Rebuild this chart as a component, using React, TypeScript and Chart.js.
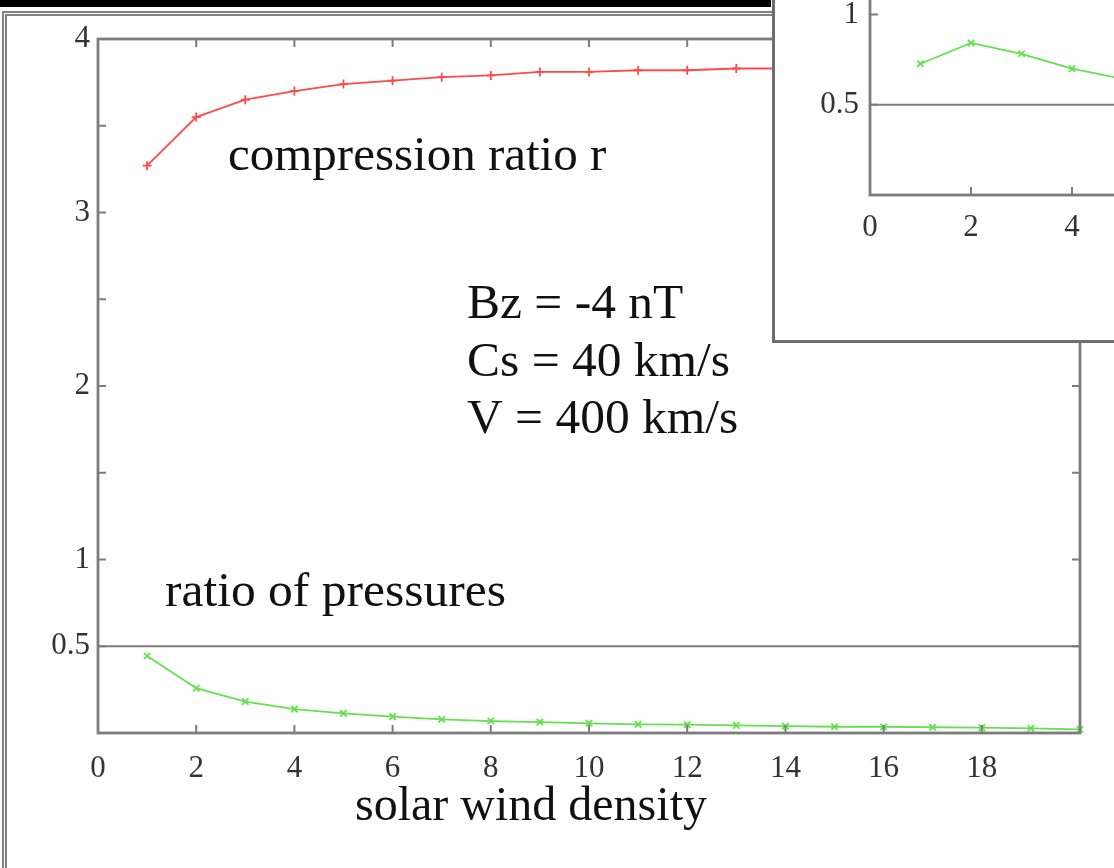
import React, { useEffect, useRef } from 'react';
import { Chart, registerables } from 'chart.js';

Chart.register(...registerables);

// ---- data ----
const densities = [1, 2, 3, 4, 5, 6, 7, 8, 9, 10, 11, 12, 13, 14, 15, 16, 17, 18, 19, 20];
const compressionRatio = [3.27, 3.55, 3.65, 3.70, 3.74, 3.76, 3.78, 3.79, 3.81, 3.81, 3.82, 3.82, 3.83, 3.83, 3.84, 3.84, 3.85, 3.85, 3.85, 3.86];
const pressureRatio = [0.444, 0.258, 0.181, 0.138, 0.113, 0.094, 0.079, 0.069, 0.063, 0.056, 0.050, 0.048, 0.044, 0.040, 0.036, 0.035, 0.033, 0.031, 0.027, 0.021];

const insetDensities = [1, 2, 3, 4, 5];
const insetPressureRatio = [0.727, 0.842, 0.782, 0.700, 0.643];

const mainXTickLabels = ['0', '2', '4', '6', '8', '10', '12', '14', '16', '18'];
const mainYTickLabels = ['0.5', '1', '2', '3', '4'];
const insetXTickLabels = ['0', '2', '4'];
const insetYTickLabels = ['0.5', '1'];

const curveLabelTop = 'compression ratio r';
const curveLabelBottom = 'ratio of pressures';
const paramLines = ['Bz = -4 nT', 'Cs = 40 km/s', 'V = 400 km/s'];
const xAxisTitle = 'solar wind density';

// ---- styles ----
const SERIF = "'Liberation Serif', 'Times New Roman', serif";
const RED = '#ff4a4a';
const GREEN = '#62e24c';
const AXIS = '#7c7c7c';
const TICK_TEXT = '#333333';

type Txt = { text: string; x: number; y: number; size: number };

function makeFramePlugin(opts: {
  id: string;
  refLine: number;
  xTickVals: (v: number, min: number, max: number) => boolean;
  yTickVals: (v: number, min: number, max: number) => boolean;
  texts: Txt[];
}) {
  return {
    id: opts.id,
    beforeDatasetsDraw(chart: any) {
      const { ctx, chartArea, scales } = chart;
      const yy = scales.y.getPixelForValue(opts.refLine);
      ctx.save();
      ctx.strokeStyle = AXIS;
      ctx.lineWidth = 2;
      ctx.beginPath();
      ctx.moveTo(chartArea.left, yy);
      ctx.lineTo(chartArea.right, yy);
      ctx.stroke();
      ctx.restore();
    },
    afterDatasetsDraw(chart: any) {
      const { ctx, chartArea, scales } = chart;
      const { left, right, top, bottom } = chartArea;
      ctx.save();
      ctx.strokeStyle = AXIS;
      ctx.lineWidth = 2.8;
      ctx.strokeRect(left, top, right - left, bottom - top);
      ctx.lineWidth = 2;
      const tl = 8;
      const xs = scales.x;
      xs.ticks.forEach((t: any) => {
        if (!opts.xTickVals(t.value, xs.min, xs.max)) return;
        const px = xs.getPixelForValue(t.value);
        ctx.beginPath();
        ctx.moveTo(px, bottom);
        ctx.lineTo(px, bottom - tl);
        ctx.moveTo(px, top);
        ctx.lineTo(px, top + tl);
        ctx.stroke();
      });
      const ys = scales.y;
      ys.ticks.forEach((t: any) => {
        if (!opts.yTickVals(t.value, ys.min, ys.max)) return;
        const py = ys.getPixelForValue(t.value);
        ctx.beginPath();
        ctx.moveTo(left, py);
        ctx.lineTo(left + tl, py);
        ctx.moveTo(right, py);
        ctx.lineTo(right - tl, py);
        ctx.stroke();
      });
      ctx.fillStyle = '#111';
      ctx.textAlign = 'left';
      ctx.textBaseline = 'alphabetic';
      opts.texts.forEach((t) => {
        ctx.font = `${t.size}px ${SERIF}`;
        ctx.fillText(t.text, t.x, t.y);
      });
      ctx.restore();
    },
  };
}

const noScalePadding = (s: any) => {
  s.paddingTop = 0;
  s.paddingBottom = 0;
  s.paddingLeft = 0;
  s.paddingRight = 0;
};

function MainChart() {
  const ref = useRef<HTMLCanvasElement | null>(null);
  useEffect(() => {
    if (!ref.current) return;
    const W = 1114, H = 868;
    const area = { left: 98, right: 1080, top: 39, bottom: 733 };
    const texts: Txt[] = [
      { text: curveLabelTop, x: 228, y: 170, size: 49 },
      { text: paramLines[0], x: 467, y: 318, size: 49.5 },
      { text: paramLines[1], x: 467, y: 376, size: 49.5 },
      { text: paramLines[2], x: 467, y: 433, size: 49.5 },
      { text: curveLabelBottom, x: 165, y: 606, size: 49.5 },
      { text: xAxisTitle, x: 355, y: 820, size: 48 },
    ];
    const chart = new Chart(ref.current, {
      type: 'line',
      data: {
        datasets: [
          {
            label: 'compression ratio r',
            data: densities.map((d, i) => ({ x: d, y: compressionRatio[i] })),
            borderColor: RED,
            backgroundColor: RED,
            borderWidth: 1.8,
            pointStyle: 'cross',
            pointRadius: 4.5,
            pointBorderWidth: 1.8,
            tension: 0,
            clip: false as any,
          },
          {
            label: 'ratio of pressures',
            data: densities.map((d, i) => ({ x: d, y: pressureRatio[i] })),
            borderColor: GREEN,
            backgroundColor: GREEN,
            borderWidth: 1.8,
            pointStyle: 'crossRot',
            pointRadius: 4.5,
            pointBorderWidth: 1.8,
            tension: 0,
            clip: false as any,
          },
        ],
      },
      options: {
        responsive: false,
        animation: false,
        devicePixelRatio: 1,
        layout: { padding: { left: 0, top: area.top, right: W - area.right, bottom: 0 } },
        plugins: { legend: { display: false }, tooltip: { enabled: false }, title: { display: false } },
        scales: {
          x: {
            type: 'linear',
            min: 0,
            max: 20,
            grid: { display: false, drawTicks: false },
            border: { display: false },
            ticks: {
              stepSize: 2,
              autoSkip: false,
              maxRotation: 0,
              padding: 17,
              color: TICK_TEXT,
              font: { family: SERIF, size: 31 },
              callback: (v: any) => (mainXTickLabels.includes(String(v)) ? String(v) : ''),
            },
            afterFit: (s: any) => { s.height = H - area.bottom; noScalePadding(s); },
          },
          y: {
            type: 'linear',
            min: 0,
            max: 4,
            grid: { display: false, drawTicks: false },
            border: { display: false },
            ticks: {
              stepSize: 0.5,
              autoSkip: false,
              padding: 8,
              color: TICK_TEXT,
              font: { family: SERIF, size: 31 },
              callback: (v: any) => (mainYTickLabels.includes(String(v)) ? String(v) : ''),
            },
            afterFit: (s: any) => { s.width = area.left; noScalePadding(s); },
          },
        },
      } as any,
      plugins: [
        makeFramePlugin({
          id: 'mainFrame',
          refLine: 0.5,
          xTickVals: (v, mn, mx) => v > mn && v < mx,
          yTickVals: (v, mn, mx) => v > mn && v < mx,
          texts,
        }),
      ],
    });
    return () => chart.destroy();
  }, []);
  return <canvas ref={ref} width={1114} height={868} style={{ position: 'absolute', left: 0, top: 0, width: 1114, height: 868 }} />;
}

function InsetChart() {
  const ref = useRef<HTMLCanvasElement | null>(null);
  const CW = 414, CH = 377;
  useEffect(() => {
    if (!ref.current) return;
    const area = { left: 95, bottom: 232, top: 3, right: 398 };
    const chart = new Chart(ref.current, {
      type: 'line',
      data: {
        datasets: [
          {
            label: 'ratio of pressures',
            data: insetDensities.map((d, i) => ({ x: d, y: insetPressureRatio[i] })),
            borderColor: GREEN,
            backgroundColor: GREEN,
            borderWidth: 1.8,
            pointStyle: 'crossRot',
            pointRadius: 4.5,
            pointBorderWidth: 1.8,
            tension: 0,
          },
        ],
      },
      options: {
        responsive: false,
        animation: false,
        devicePixelRatio: 1,
        layout: { padding: { left: 0, top: area.top, right: CW - area.right, bottom: 0 } },
        plugins: { legend: { display: false }, tooltip: { enabled: false }, title: { display: false } },
        scales: {
          x: {
            type: 'linear',
            min: 0,
            max: 6,
            grid: { display: false, drawTicks: false },
            border: { display: false },
            ticks: {
              stepSize: 2,
              autoSkip: false,
              maxRotation: 0,
              padding: 14,
              color: TICK_TEXT,
              font: { family: SERIF, size: 31 },
              callback: (v: any) => (insetXTickLabels.includes(String(v)) ? String(v) : ''),
            },
            afterFit: (s: any) => { s.height = CH - area.bottom; noScalePadding(s); },
          },
          y: {
            type: 'linear',
            min: 0,
            max: 1.25,
            grid: { display: false, drawTicks: false },
            border: { display: false },
            ticks: {
              stepSize: 0.5,
              autoSkip: false,
              padding: 11,
              color: TICK_TEXT,
              font: { family: SERIF, size: 31 },
              callback: (v: any) => (insetYTickLabels.includes(String(v)) ? String(v) : ''),
            },
            afterFit: (s: any) => { s.width = area.left; noScalePadding(s); },
          },
        },
      } as any,
      plugins: [
        makeFramePlugin({
          id: 'insetFrame',
          refLine: 0.5,
          xTickVals: (v, mn, mx) => v > mn && v < mx,
          yTickVals: (v) => insetYTickLabels.includes(String(v)),
          texts: [],
        }),
      ],
    });
    return () => chart.destroy();
  }, []);
  return (
    <div
      style={{
        position: 'absolute',
        left: 772,
        top: -40,
        width: CW + 6,
        height: CH + 6,
        boxSizing: 'border-box',
        border: '3px solid #6e6e6e',
        background: '#fff',
      }}
    >
      <canvas ref={ref} width={CW} height={CH} style={{ display: 'block', width: CW, height: CH }} />
    </div>
  );
}

export default function App() {
  return (
    <div
      style={{
        position: 'fixed',
        left: 0,
        top: 0,
        width: 1114,
        height: 868,
        overflow: 'hidden',
        background: '#fff',
      }}
    >
      <div style={{ position: 'absolute', left: 0, top: 0, width: 771, height: 7, background: '#000' }} />
      <div
        style={{
          position: 'absolute',
          left: 2,
          top: 11,
          width: 1300,
          height: 1000,
          borderLeft: '5px double #808080',
          borderTop: '5px double #808080',
        }}
      />
      <MainChart />
      <InsetChart />
    </div>
  );
}
